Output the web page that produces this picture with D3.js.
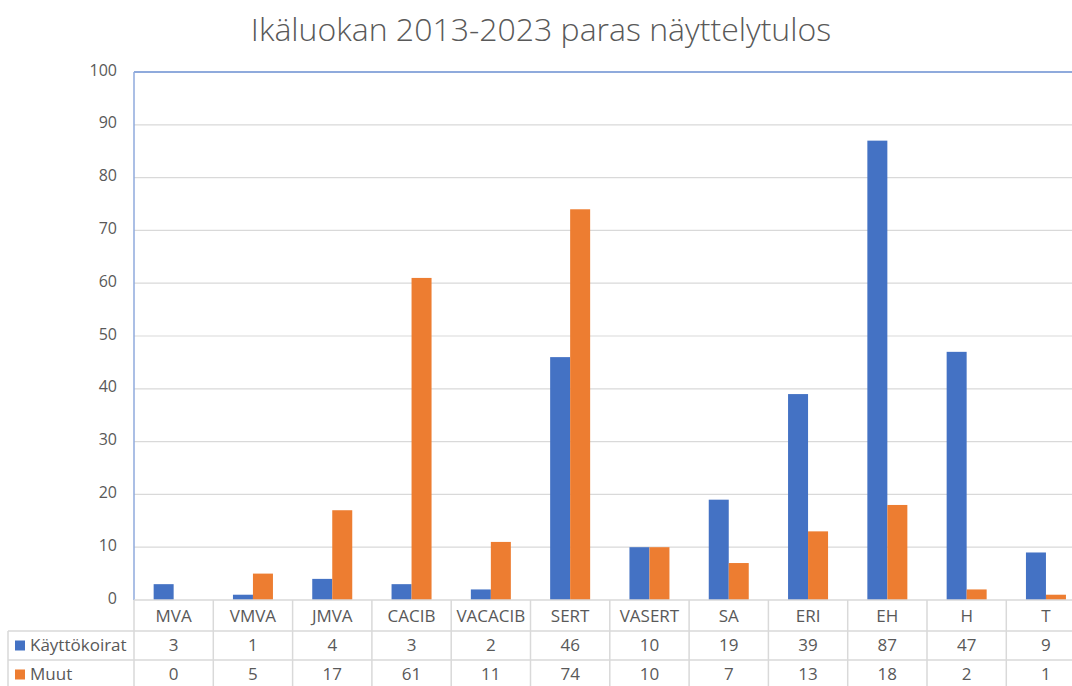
<!DOCTYPE html>
<html>
<head>
<meta charset="utf-8">
<script src="https://cdn.jsdelivr.net/npm/d3@7"></script>
<style>
  body { margin: 0; background: #fff; }
  text { font-family: "Open Sans", "Liberation Sans", sans-serif; fill: #595959; }
</style>
</head>
<body>
<div id="chart"></div>
<script>
var categories = ["MVA", "VMVA", "JMVA", "CACIB", "VACACIB", "SERT", "VASERT", "SA", "ERI", "EH", "H", "T"];
var seriesNames = ["Käyttökoirat", "Muut"];
var kayttokoirat = [3, 1, 4, 3, 2, 46, 10, 19, 39, 87, 47, 9];
var muut = [0, 5, 17, 61, 11, 74, 10, 7, 13, 18, 2, 1];
var yTicks = [0, 10, 20, 30, 40, 50, 60, 70, 80, 90, 100];
var colors = ["#4472C4", "#ED7D31"];

var width = 1072, height = 686;
var plotLeft = 134, plotTop = 72, plotBottom = 600, colW = 79.3;
var rowH = [31, 29, 29];

var svg = d3.select("#chart").append("svg")
    .attr("width", width).attr("height", height);

var series = [kayttokoirat, muut];

var x0 = d3.scaleBand().domain(categories)
    .range([plotLeft, plotLeft + colW * categories.length]).padding(0);
var barW = 20;
var x1 = d3.scaleBand().domain(seriesNames)
    .range([(x0.bandwidth() - 2 * barW) / 2, (x0.bandwidth() + 2 * barW) / 2]);
var y = d3.scaleLinear().domain([0, 100]).range([plotBottom, plotTop]);

// title
svg.append("text")
    .attr("x", 541).attr("y", 41)
    .attr("text-anchor", "middle")
    .style("font-size", "32px").style("font-weight", "300")
    .text("Ikäluokan 2013-2023 paras näyttelytulos");

// gridlines
svg.append("g").selectAll("line")
    .data(yTicks.filter(function(d) { return d > 0; }))
    .enter().append("line")
    .attr("x1", plotLeft).attr("x2", width)
    .attr("y1", function(d) { return y(d); })
    .attr("y2", function(d) { return y(d); })
    .attr("stroke", function(d) { return d === 100 ? "#8faadc" : "#d9d9d9"; })
    .attr("stroke-width", function(d) { return d === 100 ? 2 : 1.2; });

// y axis labels
var yAxis = d3.axisLeft(y).tickValues(yTicks).tickSize(0).tickPadding(0);
var ya = svg.append("g").attr("transform", "translate(117,-2)").call(yAxis);
ya.select(".domain").remove();
ya.selectAll("text").style("font-size", "16px").attr("fill", "#595959")
    .style("font-family", "'Open Sans', sans-serif");

// bars
var groups = svg.append("g").selectAll("g")
    .data(categories).enter().append("g")
    .attr("transform", function(d) { return "translate(" + x0(d) + ",0)"; });

groups.selectAll("rect")
    .data(function(d, i) { return seriesNames.map(function(s, j) { return { s: s, v: series[j][i], j: j }; }); })
    .enter().append("rect")
    .attr("x", function(d) { return x1(d.s); })
    .attr("width", x1.bandwidth())
    .attr("y", function(d) { return y(d.v); })
    .attr("height", function(d) { return plotBottom - y(d.v); })
    .attr("fill", function(d) { return colors[d.j]; });

// left plot border
svg.append("line")
    .attr("x1", plotLeft).attr("x2", plotLeft).attr("y1", plotTop).attr("y2", plotBottom)
    .attr("stroke", "#8faadc").attr("stroke-width", 1.5);

// data table
var rowY = [plotBottom, plotBottom + rowH[0], plotBottom + rowH[0] + rowH[1], plotBottom + rowH[0] + rowH[1] + rowH[2]];
var tbl = svg.append("g");
var lineColor = "#d9d9d9";

tbl.append("line").attr("x1", plotLeft).attr("x2", width).attr("y1", rowY[0]).attr("y2", rowY[0])
    .attr("stroke", lineColor).attr("stroke-width", 1.5);
[1, 2].forEach(function(r) {
  tbl.append("line").attr("x1", 8).attr("x2", width).attr("y1", rowY[r]).attr("y2", rowY[r])
      .attr("stroke", lineColor).attr("stroke-width", 1.5);
});
tbl.append("line").attr("x1", 8).attr("x2", 8).attr("y1", rowY[1]).attr("y2", height)
    .attr("stroke", lineColor).attr("stroke-width", 1.5);
tbl.selectAll(".vl").data(categories).enter().append("line")
    .attr("class", "vl")
    .attr("x1", function(d) { return x0(d); }).attr("x2", function(d) { return x0(d); })
    .attr("y1", rowY[0]).attr("y2", height)
    .attr("stroke", lineColor).attr("stroke-width", 1.5);

// category row
tbl.selectAll(".cat").data(categories).enter().append("text")
    .attr("x", function(d) { return x0(d) + x0.bandwidth() / 2; })
    .attr("y", rowY[0] + rowH[0] / 2 + 1).attr("dy", "0.35em")
    .attr("text-anchor", "middle").style("font-size", "17px")
    .text(function(d) { return d; });

// value rows
series.forEach(function(vals, j) {
  var cy = rowY[j + 1] + rowH[j + 1] / 2;
  tbl.selectAll(".v" + j).data(vals).enter().append("text")
      .attr("x", function(d, i) { return x0(categories[i]) + x0.bandwidth() / 2; })
      .attr("y", cy).attr("dy", "0.35em")
      .attr("text-anchor", "middle").style("font-size", "17px")
      .text(function(d) { return d; });
  tbl.append("rect").attr("x", 15).attr("y", cy - 5).attr("width", 10).attr("height", 10)
      .attr("fill", colors[j]);
  tbl.append("text").attr("x", 30).attr("y", cy).attr("dy", "0.35em")
      .style("font-size", "17px").text(seriesNames[j]);
});
</script>
</body>
</html>
